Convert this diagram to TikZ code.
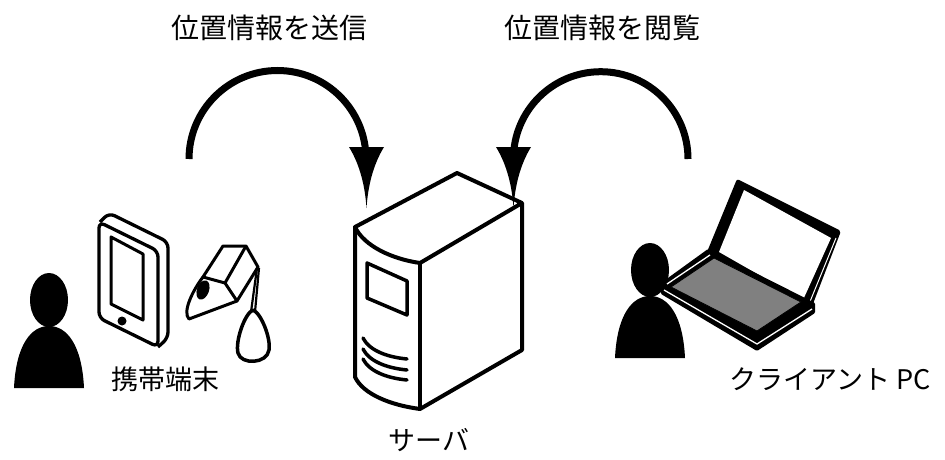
\documentclass[tikz,border=0pt]{standalone}
\usepackage{fontspec}
\newfontfamily\jpfont{Noto Sans CJK JP}
\begin{document}
\begin{tikzpicture}[x=1pt,y=-1pt,
  lbl/.style={font=\jpfont\fontsize{28}{32}\selectfont, inner sep=0pt},
  lblsmall/.style={font=\jpfont\fontsize{27}{31}\selectfont, inner sep=0pt},
  arrowline/.style={line width=7},
  srv/.style={line width=4, line join=round},
  dev/.style={line width=3.3, line join=round},
  person/.pic={
    \fill (0,0) ellipse[x radius=19, y radius=27];
    \fill (-35,88) .. controls (-33,45) and (-18,26) .. (0,26)
          .. controls (18,26) and (33,45) .. (35,88) -- cycle;
  }]
\useasboundingbox (0,0) rectangle (945,460);

% ---------- labels ----------
\node[lbl] (sendlbl) at (269,28) {位置情報を送信};
\node[lbl] (viewlbl) at (602,28) {位置情報を閲覧};
\node[lblsmall] (mobilelbl) at (165,379) {携帯端末};
\node[lblsmall] (serverlbl) at (429,440) {サーバ};
\node[lblsmall] (clientlbl) at (830,379) {クライアント PC};

% ---------- arrows ----------
\coordinate (sendfrom) at (189,159);
\coordinate (sendto) at (366.5,208);
\coordinate (viewfrom) at (688,159);
\coordinate (viewto) at (513.5,208);

\draw[arrowline] (sendfrom) arc[start angle=180, end angle=360, radius=88.5];
\fill (349,147) -- (384,147) .. controls (373,165) and (368,186) .. (sendto)
      .. controls (365,186) and (360,165) .. (349,147) -- cycle;

\draw[arrowline] (viewfrom) arc[start angle=360, end angle=180, radius=87.3];
\fill (496,147) -- (531,147) .. controls (520,165) and (515,186) .. (viewto)
      .. controls (512,186) and (507,165) .. (496,147) -- cycle;

% ---------- server ----------
\draw[srv] (355,227) -- (457,173) -- (522,203) -- (420,263)
      .. controls (392,259) and (364,246) .. (355,227) -- cycle;
\draw[srv] (355,227) -- (355,377) .. controls (363,394) and (390,405) .. (420,409)
      -- (522,350) -- (522,203);
\draw[srv] (420,263) -- (420,409);
\draw[line width=3.5, line join=round] (367,263) -- (407,281) -- (407,315) -- (367,298) -- cycle;
\foreach \dy in {0,11,21}{
  \draw[line width=3.5, line cap=round] (363,338+\dy) .. controls (369,350+\dy) and (386,357+\dy) .. (407,359+\dy);
}

% ---------- left person ----------
\pic at (49,300) {person};

% ---------- handheld terminal ----------
\draw[dev, rounded corners=6] (99,222) -- (158,251) -- (158,347) -- (99,318) -- cycle;
\draw[dev, rounded corners=6] (100,222) -- (109,213) -- (168,242) -- (168,338) -- (158,347);
\draw[line width=3, line join=round] (111,237) -- (143,254) -- (143,320) -- (111,304) -- cycle;
\fill (122,321) circle[radius=4.5];

% ---------- tag with carabiner ----------
\draw[line width=3, line join=round]
  (203,277) -- (223,246) -- (246,246) -- (258,267) -- (237,301) -- (225,283) -- cycle;
\draw[line width=3, line join=round] (225,283) -- (246,246);
\draw[line width=3, line join=round]
  (203,277) .. controls (193,290) and (182,312) .. (189,319) -- (237,301);
\fill[rotate around={-20:(203,290)}] (203,290) ellipse[x radius=6, y radius=10];
\draw[line width=2.2] (257,268) -- (251,312);
\draw[line width=2.2] (259,268) -- (255,312);
\draw[line width=3.5, line join=round]
  (253,310) .. controls (261,313) and (271,338) .. (269,350)
  .. controls (267,364) and (241,365) .. (238,353)
  .. controls (235,341) and (245,313) .. (253,310) -- cycle;

% ---------- right person ----------
\pic at (650,270) {person};

% ---------- laptop ----------
\fill[rounded corners=2] (737,179) -- (841,231) -- (811,309) -- (707,252) -- cycle;
\fill[white] (744,190) -- (831,238) -- (803,300) -- (719,252) -- cycle;
\draw[white, line width=1] (836,238) -- (809,304);
\fill[rounded corners=1] (708,249) -- (815,303) -- (815,313) -- (757,351) -- (661,294) -- (661,283) -- cycle;
\draw[white, line width=1.3] (664,290) -- (757,344) -- (812,309);
\draw[white, line width=1.3] (667,284) -- (710,255);
\fill[gray!75!black!80, draw=black, line width=0.8]
  (714,258) -- (801,302) -- (757,331) -- (671,287) -- cycle;
\end{tikzpicture}
\end{document}
